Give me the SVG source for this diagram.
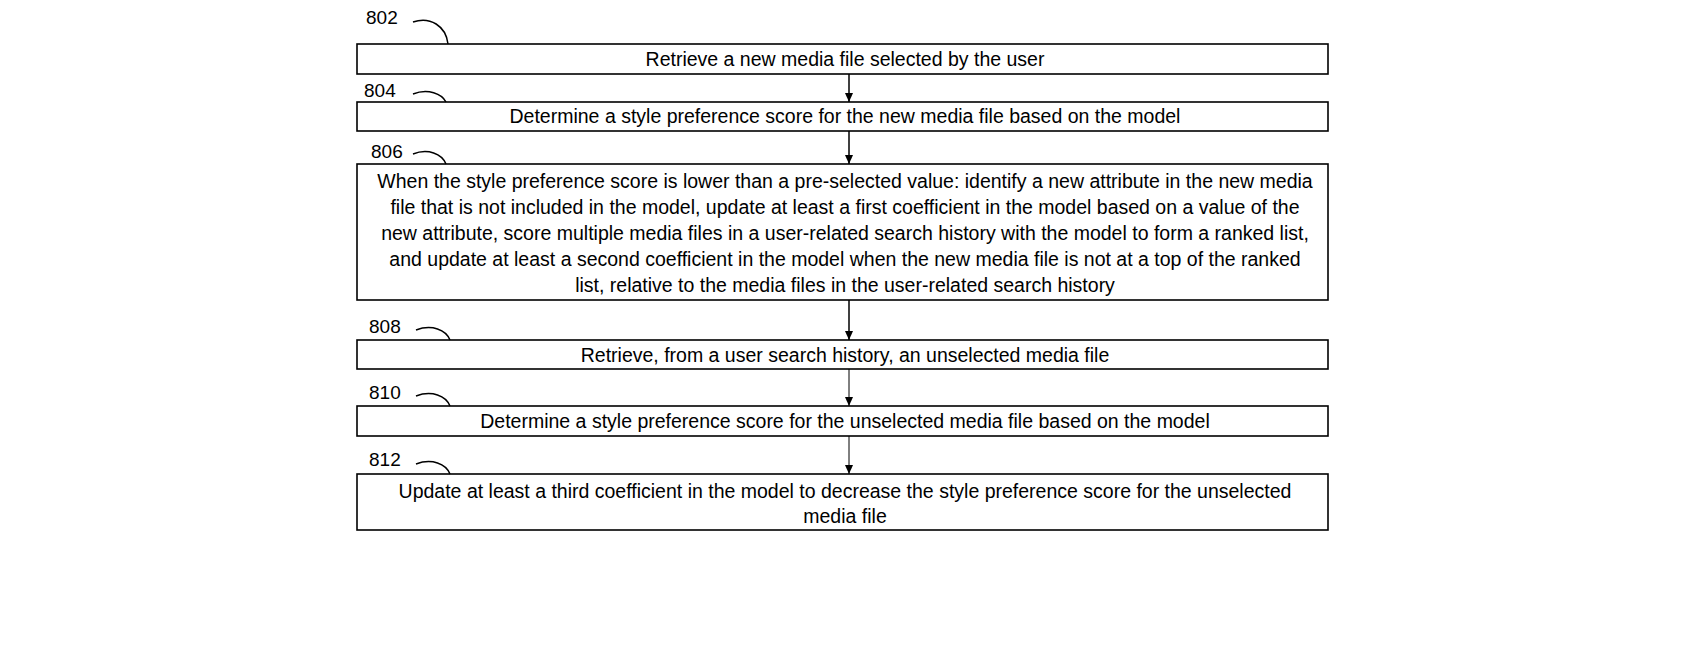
<svg xmlns="http://www.w3.org/2000/svg" width="1700" height="650" viewBox="0 0 1700 650">
<style>
.box{fill:#fff;stroke:#000;stroke-width:1.6}
.t{font-family:"Liberation Sans",Arial,sans-serif;font-size:19.5px;fill:#000;text-anchor:middle}
.lb{font-family:"Liberation Sans",Arial,sans-serif;font-size:19px;fill:#000}
.c{fill:none;stroke:#000;stroke-width:1.5}
</style>
<defs><marker id="ah" markerWidth="10" markerHeight="10" refX="9" refY="5" orient="auto" markerUnits="userSpaceOnUse"><path d="M0,1 L9,5 L0,9 Z" fill="#000"/></marker></defs>
<rect width="1700" height="650" fill="#fff"/>
<g id="n802"><rect class="box" x="357" y="44" width="971" height="30"/><text class="t" x="845" y="66">Retrieve a new media file selected by the user</text><text class="lb" x="366" y="24">802</text><path class="c" d="M413,22 C430,16 446,26 448,44"/></g>
<g id="n804"><rect class="box" x="357" y="102" width="971" height="29"/><text class="t" x="845" y="123">Determine a style preference score for the new media file based on the model</text><text class="lb" x="364" y="97">804</text><path class="c" d="M413,94 C428,88 442,94 446,102"/></g>
<g id="n806"><rect class="box" x="357" y="164" width="971" height="136"/>
<text class="t" x="845" y="188">When the style preference score is lower than a pre-selected value: identify a new attribute in the new media</text>
<text class="t" x="845" y="214">file that is not included in the model, update at least a first coefficient in the model based on a value of the</text>
<text class="t" x="845" y="240">new attribute, score multiple media files in a user-related search history with the model to form a ranked list,</text>
<text class="t" x="845" y="266">and update at least a second coefficient in the model when the new media file is not at a top of the ranked</text>
<text class="t" x="845" y="292">list, relative to the media files in the user-related search history</text>
<text class="lb" x="371" y="158">806</text><path class="c" d="M413,154 C428,148 442,154 446,164"/></g>
<g id="n808"><rect class="box" x="357" y="340" width="971" height="29"/><text class="t" x="845" y="362">Retrieve, from a user search history, an unselected media file</text><text class="lb" x="369" y="333">808</text><path class="c" d="M416,330 C432,324 446,330 450,340"/></g>
<g id="n810"><rect class="box" x="357" y="406" width="971" height="30"/><text class="t" x="845" y="428">Determine a style preference score for the unselected media file based on the model</text><text class="lb" x="369" y="399">810</text><path class="c" d="M416,396 C432,390 446,396 450,406"/></g>
<g id="n812"><rect class="box" x="357" y="474" width="971" height="56"/><text class="t" x="845" y="498">Update at least a third coefficient in the model to decrease the style preference score for the unselected</text><text class="t" x="845" y="523">media file</text><text class="lb" x="369" y="466">812</text><path class="c" d="M416,464 C432,458 446,464 450,474"/></g>
<g id="connectors" stroke="#000" stroke-width="1.5">
<line x1="849" y1="74" x2="849" y2="102" marker-end="url(#ah)"/>
<line x1="849" y1="131" x2="849" y2="164" marker-end="url(#ah)"/>
<line x1="849" y1="300" x2="849" y2="340" marker-end="url(#ah)"/>
<line x1="849" y1="369" x2="849" y2="406" marker-end="url(#ah)" stroke-width="1"/>
<line x1="849" y1="436" x2="849" y2="474" marker-end="url(#ah)" stroke-width="1"/>
</g>
</svg>
